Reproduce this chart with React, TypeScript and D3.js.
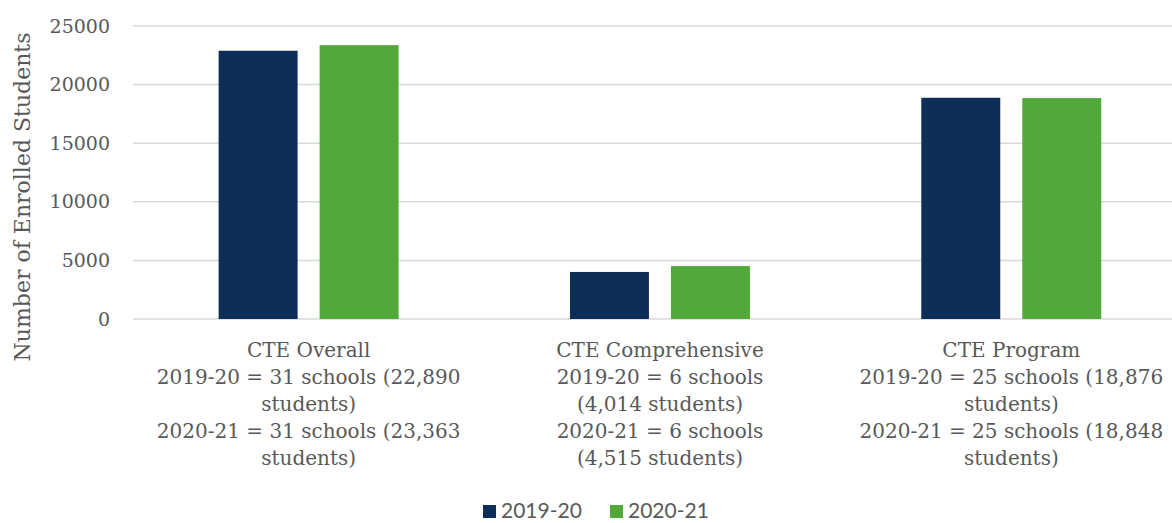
import { FC, useEffect, useRef } from "react";
import * as d3 from "d3";

const categories = ["CTE Overall", "CTE Comprehensive", "CTE Program"];
const categoryLines = [
  ["CTE Overall", "2019-20 = 31 schools (22,890", "students)", "2020-21 = 31 schools (23,363", "students)"],
  ["CTE Comprehensive", "2019-20 = 6 schools", "(4,014 students)", "2020-21 = 6 schools", "(4,515 students)"],
  ["CTE Program", "2019-20 = 25 schools (18,876", "students)", "2020-21 = 25 schools (18,848", "students)"],
];
const seriesNames = ["2019-20", "2020-21"];
const values2019 = [22890, 4014, 18876];
const values2020 = [23363, 4515, 18848];
const yTicks = [0, 5000, 10000, 15000, 20000, 25000];

const colors = ["#0D2F57", "#52A838"];
const W = 1172, H = 523;
const serif = "'DejaVu Serif', serif";
const sans = "Lato, 'Open Sans', sans-serif";

const App: FC = () => {
  const ref = useRef<SVGSVGElement>(null);

  useEffect(() => {
    const svg = d3.select(ref.current);
    svg.selectAll("*").remove();

    const x = d3.scaleBand().domain(categories).range([133, 1187]);
    const inner = d3.scaleBand().domain(seriesNames)
      .range([x.bandwidth() * 0.2437, x.bandwidth() * 0.756])
      .paddingInner(0.218);
    const y = d3.scaleLinear().domain([0, 25000]).range([319, 26]);

    // gridlines
    svg.append("g")
      .selectAll("line")
      .data(yTicks)
      .join("line")
      .attr("x1", 133)
      .attr("x2", W)
      .attr("y1", d => y(d))
      .attr("y2", d => y(d))
      .attr("stroke", "#D9D9D9")
      .attr("stroke-width", 1.5);

    // y tick labels
    svg.append("g")
      .selectAll("text")
      .data(yTicks)
      .join("text")
      .attr("x", 110)
      .attr("y", d => y(d))
      .attr("dy", "0.35em")
      .attr("text-anchor", "end")
      .attr("fill", "#595959")
      .style("font-family", serif)
      .style("font-size", "19px")
      .text(d => String(d));

    // y axis title
    svg.append("text")
      .attr("transform", `translate(30, 197) rotate(-90)`)
      .attr("text-anchor", "middle")
      .attr("fill", "#595959")
      .style("font-family", serif)
      .style("font-size", "22px")
      .text("Number of Enrolled Students");

    const series = [values2019, values2020];
    series.forEach((vals, si) => {
      svg.append("g")
        .selectAll("rect")
        .data(vals)
        .join("rect")
        .attr("x", (_, i) => (x(categories[i]) as number) + (inner(seriesNames[si]) as number))
        .attr("width", inner.bandwidth())
        .attr("y", d => y(d))
        .attr("height", d => y(0) - y(d))
        .attr("fill", colors[si]);
    });

    // category labels
    categoryLines.forEach((lines, i) => {
      const cx = (x(categories[i]) as number) + x.bandwidth() / 2;
      const t = svg.append("text")
        .attr("text-anchor", "middle")
        .attr("fill", "#595959")
        .style("font-family", serif)
        .style("font-size", "20px");
      lines.forEach((l, j) => {
        t.append("tspan").attr("x", cx).attr("y", 357 + j * 27).text(l);
      });
    });

    // legend
    const legendX = [483, 610];
    seriesNames.forEach((s, i) => {
      svg.append("rect")
        .attr("x", legendX[i])
        .attr("y", 505)
        .attr("width", 13)
        .attr("height", 13)
        .attr("fill", colors[i]);
      svg.append("text")
        .attr("x", legendX[i] + 18)
        .attr("y", 518)
        .attr("fill", "#595959")
        .style("font-family", sans)
        .style("font-size", "21px")
        .text(s);
    });
  }, []);

  return (
    <svg ref={ref} width={W} height={H}
      style={{ position: "absolute", left: 0, top: 0, background: "#fff", display: "block" }} />
  );
};

export default App;
